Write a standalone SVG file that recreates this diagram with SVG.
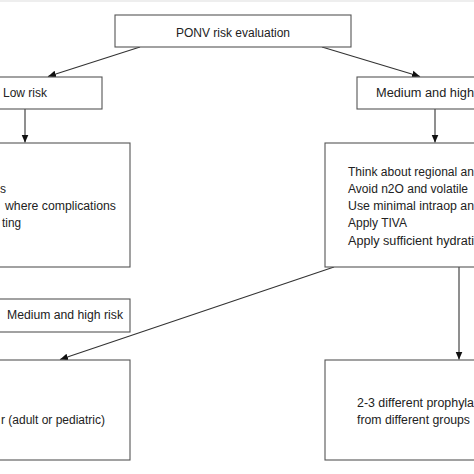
<svg xmlns="http://www.w3.org/2000/svg" width="474" height="474" viewBox="0 0 474 474">
<style>
.box{fill:#fff;stroke:#555;stroke-width:1.1}
.t{font-family:"Liberation Sans",Arial,sans-serif;font-size:12px;fill:#222}
.c{stroke:#333;stroke-width:1.1;fill:none}
</style>
<defs>
<marker id="ah" markerWidth="9" markerHeight="9" refX="8" refY="4" orient="auto" markerUnits="userSpaceOnUse">
<path d="M0,0.5 L8,4 L0,7.5 Z" fill="#111"/>
</marker>
</defs>
<rect x="0" y="0" width="474" height="474" fill="#fff"/>
<rect x="0" y="0" width="474" height="2" fill="#eee"/>
<g id="connectors">
<line class="c" x1="140" y1="47" x2="48" y2="76.5" marker-end="url(#ah)"/>
<line class="c" x1="322" y1="47" x2="420" y2="76.5" marker-end="url(#ah)"/>
<line class="c" x1="25" y1="109" x2="25" y2="142.5" marker-end="url(#ah)"/>
<line class="c" x1="435" y1="109" x2="435" y2="142.5" marker-end="url(#ah)"/>
<line class="c" x1="334" y1="267" x2="60" y2="359.5" marker-end="url(#ah)"/>
<line class="c" x1="459" y1="267" x2="459" y2="359.5" marker-end="url(#ah)"/>
</g>
<g id="top">
<rect class="box" x="115" y="15" width="236" height="32"/>
<text class="t" x="233" y="37" text-anchor="middle">PONV risk evaluation</text>
</g>
<g id="low">
<rect class="box" x="-5" y="77" width="107" height="32"/>
<text class="t" x="3" y="97">Low risk</text>
</g>
<g id="medhigh">
<rect class="box" x="357" y="77" width="125" height="32"/>
<text class="t" x="376" y="97" textLength="98" lengthAdjust="spacingAndGlyphs">Medium and high</text>
</g>
<g id="lowbox">
<rect class="box" x="-5" y="143" width="135" height="124"/>
<text class="t" x="6" y="193" text-anchor="end">s</text>
<text class="t" x="5" y="210" textLength="111" lengthAdjust="spacingAndGlyphs">where complications</text>
<text class="t" x="2" y="227" textLength="19" lengthAdjust="spacingAndGlyphs">ting</text>
</g>
<g id="medbox">
<rect class="box" x="325" y="143" width="155" height="124"/>
<text class="t" x="348" y="176" textLength="126" lengthAdjust="spacingAndGlyphs">Think about regional an</text>
<text class="t" x="348" y="193" textLength="120" lengthAdjust="spacingAndGlyphs">Avoid n2O and volatile</text>
<text class="t" x="348" y="210" textLength="126" lengthAdjust="spacingAndGlyphs">Use minimal intraop an</text>
<text class="t" x="348" y="227">Apply TIVA</text>
<text class="t" x="348" y="245" textLength="126" lengthAdjust="spacingAndGlyphs">Apply sufficient hydrati</text>
</g>
<g id="mhlabel">
<rect class="box" x="-5" y="299" width="135" height="33"/>
<text class="t" x="7" y="319" textLength="116" lengthAdjust="spacingAndGlyphs">Medium and high risk</text>
</g>
<g id="bottomleft">
<rect class="box" x="-5" y="360" width="135" height="100"/>
<text class="t" x="1" y="424" textLength="104" lengthAdjust="spacingAndGlyphs">r (adult or pediatric)</text>
</g>
<g id="bottomright">
<rect class="box" x="325" y="360" width="155" height="100"/>
<text class="t" x="357" y="407" textLength="117" lengthAdjust="spacingAndGlyphs">2-3 different prophyla</text>
<text class="t" x="357" y="424" textLength="113" lengthAdjust="spacingAndGlyphs">from different groups</text>
</g>
</svg>
